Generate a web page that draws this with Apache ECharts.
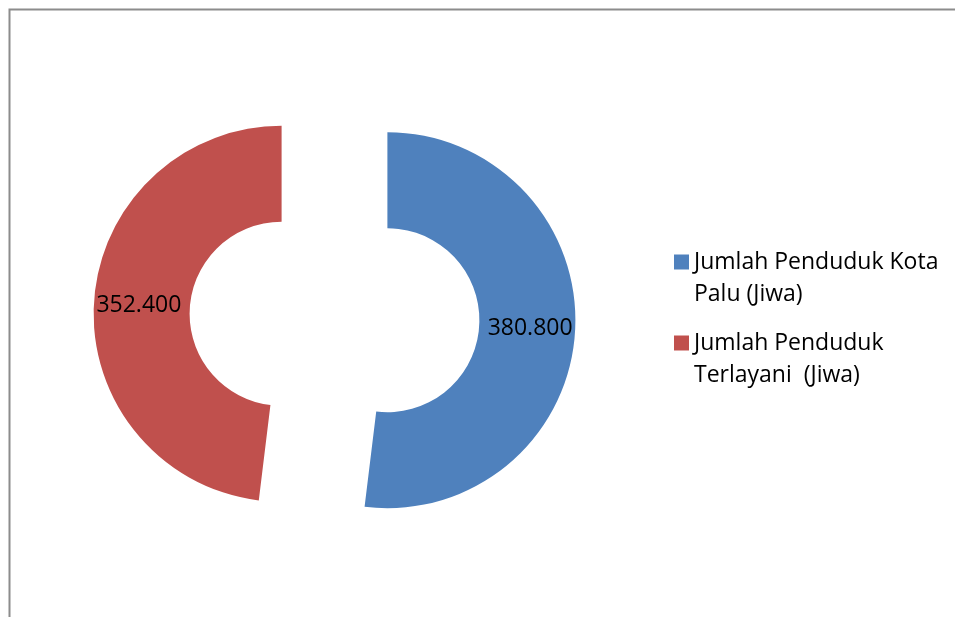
<!DOCTYPE html>
<html>
<head>
<meta charset="utf-8">
<script src="https://cdn.jsdelivr.net/npm/echarts@6/dist/echarts.min.js"></script>
<style>
  html, body { margin: 0; padding: 0; background: #fff; }
  #chart { width: 955px; height: 617px; }
</style>
</head>
<body>
<div id="chart"></div>
<script>
// Population of Palu city vs. population served (persons)
const categories = ['Jumlah Penduduk Kota Palu (Jiwa)', 'Jumlah Penduduk Terlayani  (Jiwa)'];
const values = [380800, 352400];
const colors = ['#4F81BD', '#C0504D'];

// Indonesian number format: dot as thousands separator
function formatId(v) {
  return String(Math.round(v)).replace(/\B(?=(\d{3})+(?!\d))/g, '.');
}

const FONT = '"Open Sans", "Noto Sans", sans-serif';

const chart = echarts.init(document.getElementById('chart'), null, { renderer: 'canvas' });

chart.setOption({
  animation: false,
  color: colors,
  graphic: [{
    type: 'rect',
    shape: { x: 9.5, y: 9.5, width: 1200, height: 900 },
    style: { fill: 'none', stroke: '#8c8c8c', lineWidth: 2 },
    silent: true
  }],
  legend: {
    orient: 'vertical',
    left: 674,
    top: 214,
    padding: 0,
    itemWidth: 15,
    itemHeight: 15,
    itemGap: -15,
    icon: 'rect',
    selectedMode: false,
    // a leading empty line keeps the marker level with the first text line
    formatter: name => '\n' + name,
    textStyle: {
      fontFamily: FONT,
      fontSize: 23,
      color: '#000',
      lineHeight: 32,
      width: 258,
      overflow: 'break'
    },
    data: categories
  },
  series: [{
    type: 'pie',
    center: [334.5, 317],
    radius: [92, 188],
    startAngle: 90,
    clockwise: true,
    selectedMode: 'multiple',
    selectedOffset: 53,
    avoidLabelOverlap: false,
    emphasis: { disabled: true },
    select: { itemStyle: {} },
    label: {
      show: true,
      position: 'inside',
      color: '#000',
      fontFamily: FONT,
      fontSize: 23,
      formatter: p => formatId(p.value)
    },
    labelLine: { show: false },
    data: categories.map((name, i) => ({
      name: name,
      value: values[i],
      selected: true,
      itemStyle: { color: colors[i] }
    }))
  }]
});
</script>
</body>
</html>
